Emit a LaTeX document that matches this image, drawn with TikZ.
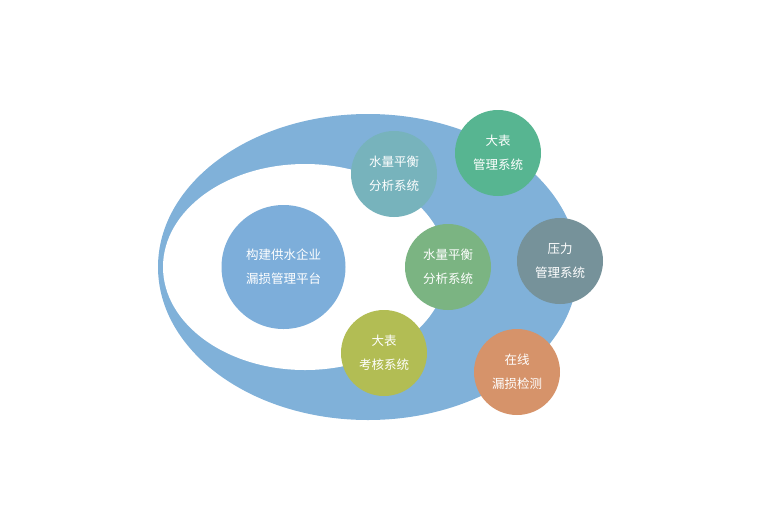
\documentclass[tikz,border=0pt]{standalone}
\usepackage{fontspec}
\newfontfamily\cjk{Noto Sans CJK SC}
\usepackage{xcolor}
\usepackage{tikz}

\definecolor{ringblue}{HTML}{80B1D9}
\definecolor{coreblue}{HTML}{7DAEDA}
\definecolor{tealbal}{HTML}{77B3BC}
\definecolor{greenmeter}{HTML}{57B591}
\definecolor{greenbal}{HTML}{7BB482}
\definecolor{greypress}{HTML}{76929A}
\definecolor{olivecheck}{HTML}{B2BD54}
\definecolor{orangeleak}{HTML}{D6936A}

\begin{document}
\begin{tikzpicture}[x=1pt, y=-1pt,
    bubble/.style={circle, minimum size=86pt, inner sep=0pt, text=white,
        align=center, font=\cjk\fontsize{12.5}{24}\selectfont}]
\useasboundingbox (0,0) rectangle (762,531);

% ring
\fill[ringblue] (368,267) ellipse [x radius=210pt, y radius=153pt];
\fill[white] (305,267) ellipse [x radius=142pt, y radius=103pt];

\node[bubble, fill=coreblue, minimum size=124pt] (core) at (283.5,267) {构建供水企业\\漏损管理平台};

\node[bubble, fill=tealbal] (sys_0) at (394,174) {水量平衡\\分析系统};
\node[bubble, fill=greenmeter] (sys_1) at (498,153) {大表\\管理系统};
\node[bubble, fill=greenbal] (sys_2) at (448,267) {水量平衡\\分析系统};
\node[bubble, fill=greypress] (sys_3) at (560,261) {压力\\管理系统};
\node[bubble, fill=olivecheck] (sys_4) at (384,353) {大表\\考核系统};
\node[bubble, fill=orangeleak] (sys_5) at (517,372) {在线\\漏损检测};

\end{tikzpicture}
\end{document}
